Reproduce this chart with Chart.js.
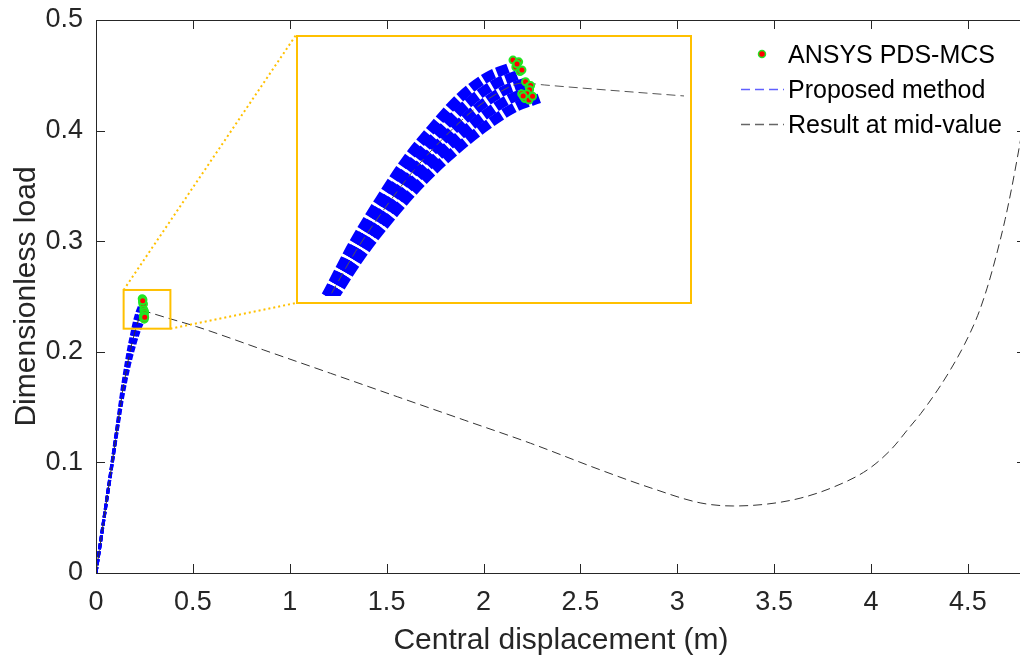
<!DOCTYPE html>
<html>
<head>
<meta charset="utf-8">
<script src="https://cdn.jsdelivr.net/npm/chart.js@4.4.0/dist/chart.umd.min.js"></script>
<style>
  html, body { margin: 0; padding: 0; background: #fff; overflow: hidden; }
  #wrap { position: relative; width: 1033px; height: 657px; }
  canvas { display: block; }
  #inset { position: absolute; left: 296px; top: 35px; width: 396px; height: 269px;
           border: 2px solid #ffc000; box-sizing: border-box; background: #fff; }
</style>
</head>
<body>
<div id="wrap">
  <canvas id="main" width="1033" height="657"></canvas>
  <div id="inset"><canvas id="zoom" width="392" height="265"></canvas></div>
</div>
<script>
// axis ticks
const xTicks = [0, 0.5, 1, 1.5, 2, 2.5, 3, 3.5, 4, 4.5]
const yTicks = [0, 0.1, 0.2, 0.3, 0.4, 0.5]

// result at mid-value (black dashed)
const midX = [0, 0.1156, 0.1331, 0.1525, 0.1719, 0.1913, 0.2107, 0.2302, 0.245, 0.2593, 0.353, 0.52, 0.866, 1.21, 1.555, 1.90, 2.243, 2.605, 2.864, 3.122, 3.29, 3.467, 3.638, 3.808, 3.98, 4.10, 4.20, 4.258, 4.344, 4.409, 4.482, 4.551, 4.599, 4.645, 4.692, 4.726, 4.757, 4.80]
const midY = [0, 0.1384, 0.1595, 0.1793, 0.1969, 0.2115, 0.2242, 0.2335, 0.2374, 0.2365, 0.2314, 0.2227, 0.2016, 0.1806, 0.1594, 0.1383, 0.1173, 0.0931, 0.0769, 0.0633, 0.0606, 0.0624, 0.0678, 0.0778, 0.0931, 0.111, 0.132, 0.1444, 0.1655, 0.1835, 0.2065, 0.2330, 0.2575, 0.2860, 0.3195, 0.3480, 0.3770, 0.420]

// proposed method, sample curves (blue dashed)
const propX1 = [0, 0.1142, 0.1308, 0.1490, 0.1671, 0.1853, 0.2033, 0.2221, 0.2364]
const propY1 = [0, 0.1399, 0.1619, 0.1828, 0.2016, 0.2172, 0.2309, 0.2405, 0.2445]
const propX2 = [0, 0.1150, 0.1321, 0.1510, 0.1698, 0.1887, 0.2075, 0.2268, 0.2413]
const propY2 = [0, 0.1391, 0.1607, 0.1811, 0.1993, 0.2144, 0.2276, 0.2370, 0.2410]
const propX3 = [0, 0.1158, 0.1334, 0.1530, 0.1726, 0.1922, 0.2118, 0.2314, 0.2462]
const propY3 = [0, 0.1384, 0.1595, 0.1793, 0.1969, 0.2115, 0.2242, 0.2335, 0.2374]
const propX4 = [0, 0.1166, 0.1348, 0.1550, 0.1753, 0.1956, 0.2160, 0.2360, 0.2511]
const propY4 = [0, 0.1377, 0.1583, 0.1776, 0.1945, 0.2086, 0.2208, 0.2300, 0.2338]
const propX5 = [0, 0.1174, 0.1361, 0.1570, 0.1781, 0.1991, 0.2202, 0.2406, 0.2560]
const propY5 = [0, 0.1370, 0.1571, 0.1758, 0.1922, 0.2058, 0.2175, 0.2265, 0.2303]

// ANSYS PDS-MCS limit points
const mcsX = [0.2384, 0.2422, 0.2403, 0.2431, 0.2444, 0.2411, 0.2468, 0.2491, 0.2502, 0.2495, 0.2442, 0.2478, 0.2463, 0.2491, 0.2452, 0.2515]
const mcsY = [0.2480, 0.2472, 0.2448, 0.2427, 0.2434, 0.2462, 0.2380, 0.2358, 0.2362, 0.2343, 0.2324, 0.2324, 0.2302, 0.2295, 0.2314, 0.2313]

// zoomed region
const zoomBox = { x0: 0.1426, x1: 0.384, y0: 0.2209, y1: 0.2559 }
const insetXRange = [0.0986, 0.3528]
const insetYRange = [0.1389, 0.2559]

const family = "'Liberation Sans', Arial, sans-serif"
const axisColor = '#262626'
const yellow = '#ffc000'

function pts(xs, ys){
    return xs.map((x, i) => ({x: x, y: ys[i]}))
}

function makeDatasets(inset){
    const blue = {
        showLine: true, pointRadius: 0, borderColor: '#0000ff',
        borderWidth: inset ? 10 : 3, borderDash: inset ? [12, 3] : [6, 2],
        cubicInterpolationMode: 'monotone', order: 2
    }
    const props = [[propX1, propY1], [propX2, propY2], [propX3, propY3], [propX4, propY4], [propX5, propY5]]
    let sets = [
        {
            label: 'ANSYS PDS-MCS', showInLegend: true, data: pts(mcsX, mcsY),
            pointRadius: 3.5, pointBorderWidth: 2, backgroundColor: '#ff0000',
            borderColor: '#22e622', order: 0
        },
        {
            label: 'Result at mid-value', showInLegend: true, data: pts(midX, midY),
            showLine: true, pointRadius: 0, borderColor: inset ? '#555555' : '#333333',
            borderWidth: 1, borderDash: [9, 5], cubicInterpolationMode: 'monotone', order: 1
        }
    ]
    props.forEach((p, i) => {
        sets.push(Object.assign({}, blue, {
            label: i == 0 ? 'Proposed method' : '', showInLegend: i == 0, data: pts(p[0], p[1])
        }))
    })
    return sets
}

const framePlugin = {
    id: 'frame',
    afterDatasetsDraw(chart){
        const {ctx, chartArea: a, scales: {x, y}} = chart
        const el = document.getElementById('inset')
        const L = el.offsetLeft, T = el.offsetTop, B = T + el.offsetHeight - 1
        ctx.save()
        // zoom box and the dotted connectors
        const bx0 = x.getPixelForValue(zoomBox.x0), bx1 = x.getPixelForValue(zoomBox.x1)
        const by0 = y.getPixelForValue(zoomBox.y1), by1 = y.getPixelForValue(zoomBox.y0)
        ctx.strokeStyle = yellow
        ctx.lineWidth = 2
        ctx.strokeRect(bx0, by0, bx1 - bx0, by1 - by0)
        ctx.setLineDash([2, 3])
        ctx.beginPath()
        ctx.moveTo(bx0, by0); ctx.lineTo(L, T)
        ctx.moveTo(bx1, by1); ctx.lineTo(L, B)
        ctx.stroke()
        // axes box with inward ticks
        ctx.setLineDash([])
        ctx.strokeStyle = axisColor
        ctx.lineWidth = 1
        ctx.strokeRect(a.left + 0.5, a.top + 0.5, a.right - a.left, a.bottom - a.top)
        ctx.beginPath()
        xTicks.forEach(v => {
            const px = Math.round(x.getPixelForValue(v)) + 0.5
            ctx.moveTo(px, a.bottom); ctx.lineTo(px, a.bottom - 9)
            ctx.moveTo(px, a.top); ctx.lineTo(px, a.top + 9)
        })
        yTicks.forEach(v => {
            const py = Math.round(y.getPixelForValue(v)) + 0.5
            ctx.moveTo(a.left, py); ctx.lineTo(a.left + 9, py)
            ctx.moveTo(a.right, py); ctx.lineTo(a.right - 9, py)
        })
        ctx.stroke()
        ctx.restore()
    },
    afterDraw(chart){
        // legend, top right inside the axes
        const ctx = chart.ctx
        const rows = chart.data.datasets.filter(d => d.showInLegend)
        const order = ['ANSYS PDS-MCS', 'Proposed method', 'Result at mid-value']
        rows.sort((a, b) => order.indexOf(a.label) - order.indexOf(b.label))
        ctx.save()
        rows.forEach((ds, i) => {
            const cy = 54 + i * 35
            if (ds.pointRadius > 0){
                ctx.beginPath()
                ctx.arc(762, cy, 3.5, 0, Math.PI * 2)
                ctx.fillStyle = ds.backgroundColor
                ctx.fill()
                ctx.lineWidth = 1.5
                ctx.strokeStyle = ds.borderColor
                ctx.stroke()
            } else {
                ctx.beginPath()
                ctx.setLineDash([9, 5])
                ctx.lineWidth = 1.5
                ctx.strokeStyle = ds.label == 'Proposed method' ? '#6060ff' : '#666666'
                ctx.moveTo(741, cy + 0.5); ctx.lineTo(784, cy + 0.5)
                ctx.stroke()
                ctx.setLineDash([])
            }
            ctx.fillStyle = '#000'
            ctx.font = '25px ' + family
            ctx.textBaseline = 'alphabetic'
            ctx.fillText(ds.label, 788, cy + 9)
        })
        ctx.restore()
    }
}

const mainChart = new Chart(document.getElementById('main'), {
    type: 'scatter',
    data: { datasets: makeDatasets(false) },
    options: {
        responsive: false,
        animation: false,
        layout: { padding: { top: 20, right: 7, left: 0, bottom: 0 } },
        plugins: { legend: { display: false }, tooltip: { enabled: false } },
        scales: {
            x: {
                type: 'linear', min: 0, max: 4.8,
                grid: { display: false, drawTicks: false },
                border: { display: false },
                afterBuildTicks: s => { s.ticks = xTicks.map(v => ({value: v})) },
                afterFit: s => { s.height = 84; s.paddingLeft = 0; s.paddingRight = 0 },
                ticks: { padding: 13, color: axisColor, font: { family: family, size: 27 }, callback: v => String(v) },
                title: { display: true, text: 'Central displacement (m)', color: axisColor,
                         font: { family: family, size: 30 }, padding: { top: 0, bottom: -2 } }
            },
            y: {
                type: 'linear', min: 0, max: 0.5,
                grid: { display: false, drawTicks: false },
                border: { display: false },
                afterBuildTicks: s => { s.ticks = yTicks.map(v => ({value: v})) },
                afterFit: s => { s.width = 96; s.paddingTop = 0; s.paddingBottom = 0 },
                ticks: { padding: 13, color: axisColor, font: { family: family, size: 27 }, callback: v => String(v) },
                title: { display: true, text: 'Dimensionless load', color: axisColor,
                         font: { family: family, size: 30 }, padding: { top: 9, bottom: 0 } }
            }
        }
    },
    plugins: [framePlugin]
})

const zoomChart = new Chart(document.getElementById('zoom'), {
    type: 'scatter',
    data: { datasets: makeDatasets(true) },
    options: {
        responsive: false,
        animation: false,
        layout: { padding: 0 },
        plugins: { legend: { display: false }, tooltip: { enabled: false } },
        scales: {
            x: { type: 'linear', display: false, min: insetXRange[0], max: insetXRange[1] },
            y: { type: 'linear', display: false, min: insetYRange[0], max: insetYRange[1] }
        }
    }
})
</script>
</body>
</html>
